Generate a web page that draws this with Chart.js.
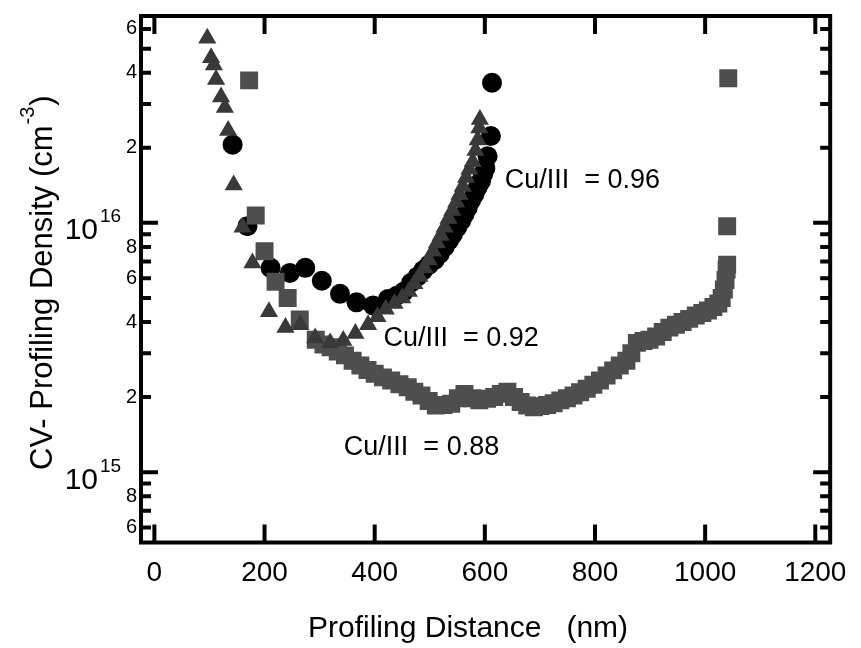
<!DOCTYPE html>
<html><head><meta charset="utf-8">
<script src="https://cdn.jsdelivr.net/npm/chart.js@4/dist/chart.umd.min.js"></script>
<style>html,body{margin:0;padding:0;background:#fff}#wrap{width:861px;height:648px;position:relative}</style>
</head><body><div id="wrap"><canvas id="c" width="861" height="648"></canvas></div>
<script>
// ---- data ----
const xTicks = [0, 200, 400, 600, 800, 1000, 1200];
const yTicks = [6e14, 7e14, 8e14, 9e14, 1e15, 2e15, 3e15, 4e15, 5e15, 6e15, 7e15, 8e15, 9e15,
                1e16, 2e16, 3e16, 4e16, 5e16, 6e16];
const yLabelled = [6e14, 8e14, 2e15, 4e15, 6e15, 8e15, 2e16, 4e16, 6e16];
const yDecades = [1e15, 1e16];
const yDecadeBase = ['10', '10'];
const yDecadeExp = ['15', '16'];

// Cu/III = 0.96 (circles)
const circX = [142, 169, 211, 246, 274, 304, 337, 367, 397, 424, 440, 453, 466, 478, 488, 499, 509, 518,
               527, 535, 542, 550, 557, 563, 569, 575, 581, 587, 593, 597, 601, 605, 611, 613];
const circY = [2.06e16, 9.7e15, 6.6e15, 6.3e15, 6.6e15, 5.86e15, 5.19e15, 4.8e15, 4.66e15, 4.95e15, 5.1e15,
               5.3e15, 5.75e15, 6.1e15, 6.45e15, 6.8e15, 7.1e15, 7.5e15, 8.0e15, 8.5e15, 9.0e15, 9.6e15,
               1.02e16, 1.08e16, 1.15e16, 1.23e16, 1.30e16, 1.39e16, 1.47e16, 1.57e16, 1.66e16, 1.85e16,
               2.23e16, 3.65e16];

// Cu/III = 0.92 (triangles)
const triX = [96, 103, 108, 112, 121, 128, 134, 144, 160, 178, 208, 238, 265, 292, 319, 343, 365, 388, 405,
              420, 436, 450, 462, 472, 481, 490, 498, 506, 513, 520, 527, 534, 541, 548, 554, 560, 566, 572,
              578, 583, 587, 590, 591];
const triY = [5.5e16, 4.6e16, 4.3e16, 3.76e16, 3.2e16, 2.9e16, 2.35e16, 1.42e16, 9.6e15, 6.9e15, 4.4e15,
              3.8e15, 3.9e15, 3.45e15, 3.3e15, 3.37e15, 3.6e15, 3.9e15, 4.2e15, 4.5e15, 4.75e15, 5.0e15,
              5.3e15, 5.7e15, 6.1e15, 6.6e15, 7.1e15, 7.7e15, 8.3e15, 8.9e15, 9.6e15, 1.04e16, 1.12e16,
              1.21e16, 1.30e16, 1.40e16, 1.52e16, 1.64e16, 1.76e16, 1.95e16, 2.15e16, 2.4e16, 2.6e16];

// Cu/III = 0.88 (squares)
const sqX = [172, 184, 200, 220, 242, 264, 293, 307, 320, 333, 346, 360, 374, 387, 400, 415, 430, 445, 460,
             472, 485, 498, 511, 525, 539, 551, 563, 577, 590, 604, 617, 629, 641, 653, 665, 677, 689, 701,
             713, 725, 737, 749, 761, 773, 785, 797, 809, 821, 833, 845, 857, 866, 876, 888, 899, 911, 923,
             935, 947, 959, 971, 983, 995, 1005, 1015, 1024, 1030, 1034, 1037, 1039, 1040, 1040, 1042];
const sqY = [3.73e16, 1.07e16, 7.7e15, 5.8e15, 5.0e15, 4.1e15, 3.4e15, 3.25e15, 3.17e15, 3.05e15, 2.94e15,
             2.80e15, 2.68e15, 2.57e15, 2.48e15, 2.40e15, 2.33e15, 2.25e15, 2.19e15, 2.10e15, 2.03e15,
             1.93e15, 1.85e15, 1.86e15, 1.88e15, 1.98e15, 2.06e15, 1.98e15, 1.94e15, 1.97e15, 2.00e15,
             2.06e15, 2.10e15, 2.00e15, 1.91e15, 1.85e15, 1.82e15, 1.84e15, 1.86e15, 1.89e15, 1.94e15,
             1.98e15, 2.03e15, 2.09e15, 2.16e15, 2.24e15, 2.33e15, 2.44e15, 2.56e15, 2.68e15, 2.80e15,
             3.0e15, 3.3e15, 3.36e15, 3.40e15, 3.5e15, 3.65e15, 3.8e15, 3.9e15, 4.0e15, 4.12e15, 4.25e15,
             4.35e15, 4.45e15, 4.6e15, 4.75e15, 5.0e15, 5.4e15, 5.9e15, 6.5e15, 6.8e15, 9.7e15, 3.8e16];

// annotations (text, anchor in data units: x nm, y density)
const noteText = ['Cu/III  = 0.96', 'Cu/III  = 0.92', 'Cu/III  = 0.88'];
const noteX = [636, 416, 344];
const noteY = [1.38e16, 3.22e15, 1.17e15];

const xTitle = 'Profiling Distance   (nm)';
const yTitleMain = 'CV- Profiling Density (cm';
const yTitleSup = '-3';
const yTitleEnd = ')';

// ---- drawing ----
const FONT = "'Liberation Sans', Arial, sans-serif";
const toPts = (xs, ys) => xs.map((v, i) => ({x: v, y: ys[i]}));
const isDecade = v => yDecades.includes(v);

const framePlugin = {
  id: 'frame',
  afterDraw(chart) {
    const {ctx, chartArea: a, scales: {x, y}} = chart;
    ctx.save();
    ctx.strokeStyle = '#000';
    ctx.lineWidth = 4;
    ctx.strokeRect(a.left, a.top, a.right - a.left, a.bottom - a.top);
    ctx.beginPath();
    x.ticks.forEach(t => {
      const px = x.getPixelForValue(t.value);
      ctx.moveTo(px, a.bottom); ctx.lineTo(px, a.bottom - 18);
      ctx.moveTo(px, a.top); ctx.lineTo(px, a.top + 18);
    });
    y.ticks.forEach(t => {
      const py = y.getPixelForValue(t.value);
      const len = isDecade(t.value) ? 17 : 10;
      ctx.moveTo(a.left, py); ctx.lineTo(a.left + len, py);
      ctx.moveTo(a.right, py); ctx.lineTo(a.right - len, py);
    });
    ctx.stroke();

    ctx.fillStyle = '#000';
    // decade labels with superscripts
    yDecades.forEach((v, i) => {
      const py = y.getPixelForValue(v);
      ctx.font = '30px ' + FONT;
      ctx.textAlign = 'right'; ctx.textBaseline = 'alphabetic';
      ctx.fillText(yDecadeBase[i], a.left - 43, py + 16.5);
      ctx.font = '19px ' + FONT;
      ctx.textAlign = 'left';
      ctx.fillText(yDecadeExp[i], a.left - 41, py - 0.5);
    });

    // x title
    ctx.font = '30px ' + FONT;
    ctx.textAlign = 'left'; ctx.textBaseline = 'alphabetic';
    ctx.fillText(xTitle, 308, 637);

    // y title (rotated)
    ctx.save();
    ctx.translate(52, 470);
    ctx.rotate(-Math.PI / 2);
    ctx.font = '31px ' + FONT;
    ctx.fillText(yTitleMain, 0, 0);
    let w = ctx.measureText(yTitleMain).width;
    ctx.font = '20px ' + FONT;
    ctx.fillText(yTitleSup, w + 1, -18);
    w += ctx.measureText(yTitleSup).width + 2;
    ctx.font = '31px ' + FONT;
    ctx.fillText(yTitleEnd, w, 0);
    ctx.restore();

    // annotations
    ctx.font = '27px ' + FONT;
    ctx.textAlign = 'left'; ctx.textBaseline = 'alphabetic';
    noteText.forEach((t, i) => {
      ctx.fillText(t, x.getPixelForValue(noteX[i]), y.getPixelForValue(noteY[i]));
    });
    ctx.restore();
  }
};

new Chart(document.getElementById('c'), {
  type: 'scatter',
  data: {
    datasets: [
      {label: 'Cu/III = 0.92', data: toPts(triX, triY), pointStyle: 'triangle', pointRadius: 10.5,
       backgroundColor: '#393939', borderWidth: 0, showLine: false},
      {label: 'Cu/III = 0.88', data: toPts(sqX, sqY), pointStyle: 'rect', pointRadius: 12.7,
       backgroundColor: '#4e4e4e', borderWidth: 0, showLine: false},
      {label: 'Cu/III = 0.96', data: toPts(circX, circY), pointStyle: 'circle', pointRadius: 10,
       backgroundColor: '#000000', borderWidth: 0, showLine: false}
    ]
  },
  options: {
    responsive: false,
    animation: false,
    devicePixelRatio: 1,
    layout: {padding: {left: 0, top: 14.5, right: 26, bottom: 0}},
    plugins: {legend: {display: false}, tooltip: {enabled: false}},
    elements: {point: {hoverRadius: 0}},
    scales: {
      x: {
        type: 'linear', position: 'bottom', min: -24.3, max: 1227,
        afterBuildTicks: s => { s.ticks = xTicks.map(v => ({value: v})); },
        afterFit: s => { s.height = 105.5; },
        grid: {display: false, drawTicks: false},
        border: {display: false},
        ticks: {color: '#000', font: {family: FONT, size: 28}, padding: 14, maxRotation: 0, autoSkip: false,
                callback: v => String(v)}
      },
      y: {
        type: 'logarithmic', position: 'left', min: 5.22e14, max: 6.76e16,
        afterBuildTicks: s => { s.ticks = yTicks.map(v => ({value: v})); },
        afterFit: s => { s.width = 141; },
        grid: {display: false, drawTicks: false},
        border: {display: false},
        ticks: {
          color: '#000', font: {family: FONT, size: 20}, padding: 4, autoSkip: false,
          callback: v => yLabelled.includes(v)
            ? String(Math.round(v / Math.pow(10, Math.floor(Math.log10(v) + 1e-9))))
            : ''
        }
      }
    }
  },
  plugins: [framePlugin]
});
</script></body></html>
